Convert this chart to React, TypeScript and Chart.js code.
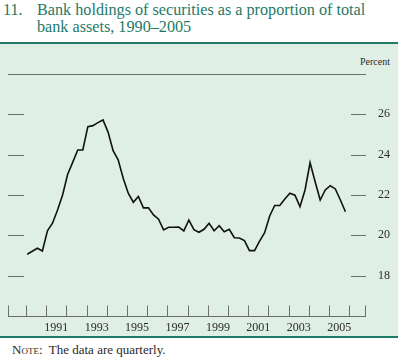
import React, { useEffect, useRef } from "react";
import { Chart, registerables } from "chart.js";

Chart.register(...registerables);

// Quarterly data, 1990:Q1 – 2005:Q4 (percent)
const START_YEAR = 1990;
const securitiesShare = [
  19.06, 19.21, 19.36, 19.22, 20.22, 20.6, 21.26, 22.0, 23.03, 23.62, 24.23, 24.23, 25.39, 25.44, 25.59, 25.72,
  25.12, 24.2, 23.74, 22.83, 22.09, 21.64, 21.93, 21.36, 21.37, 21.01, 20.8, 20.27, 20.4, 20.4, 20.41, 20.22,
  20.76, 20.28, 20.15, 20.3, 20.6, 20.23, 20.48, 20.18, 20.3, 19.88, 19.87, 19.74, 19.24, 19.24, 19.71, 20.13,
  20.96, 21.48, 21.48, 21.8, 22.09, 21.99, 21.42, 22.25, 23.6, 22.66, 21.75, 22.25, 22.46, 22.3, 21.75, 21.17,
];
const yearLabels = [1991, 1993, 1995, 1997, 1999, 2001, 2003, 2005];
const yearTicks = [1990, 1991, 1992, 1993, 1994, 1995, 1996, 1997, 1998, 1999, 2000, 2001, 2002, 2003, 2004, 2005, 2006];
const percentTicks = [18, 20, 22, 24, 26];

const X_MIN = 1989.11;
const X_MAX = 2006.83;
const Y_MIN = 16;
const Y_MAX = 28;

const SERIF = "'Liberation Serif', 'Times New Roman', Times, serif";
const TEAL = "#1f7a68";
const MARK = "#6e6e6e";

const axisMarks = {
  id: "axisMarks",
  beforeDatasetsDraw(chart: any) {
    const { ctx, chartArea, scales } = chart;
    const { left, right } = chartArea;
    const x = scales.x;
    const y = scales.y;
    ctx.save();
    ctx.strokeStyle = MARK;
    ctx.lineWidth = 1;
    ctx.beginPath();
    const yTop = Math.round(y.getPixelForValue(Y_MAX)) + 0.5;
    ctx.moveTo(left, yTop);
    ctx.lineTo(right, yTop);
    const yBot = Math.round(y.getPixelForValue(Y_MIN)) + 0.5;
    ctx.moveTo(left, yBot);
    ctx.lineTo(right, yBot);
    const xs = [left, right - 1, ...yearTicks.map((yr) => x.getPixelForValue(yr))];
    xs.forEach((px) => {
      const p = Math.round(px) + 0.5;
      ctx.moveTo(p, yBot);
      ctx.lineTo(p, yBot - 11);
    });
    percentTicks.forEach((v) => {
      const p = Math.round(y.getPixelForValue(v)) + 0.5;
      ctx.moveTo(left, p);
      ctx.lineTo(left + 16, p);
      ctx.moveTo(right - 15, p);
      ctx.lineTo(right, p);
    });
    ctx.stroke();
    ctx.restore();
  },
};

function BankChart() {
  const ref = useRef<HTMLCanvasElement | null>(null);
  useEffect(() => {
    if (!ref.current) return;
    const points = securitiesShare.map((v, i) => ({ x: START_YEAR + (i + 0.25) / 4, y: v }));
    const chart = new Chart(ref.current, {
      type: "line",
      data: {
        datasets: [
          {
            data: points,
            borderColor: "#111111",
            borderWidth: 1.6,
            pointRadius: 0,
            tension: 0,
            fill: false,
          },
        ],
      },
      options: {
        animation: false,
        responsive: false,
        devicePixelRatio: 1,
        layout: { padding: { left: 8, top: 30, right: 0, bottom: 0 } },
        plugins: { legend: { display: false }, tooltip: { enabled: false } },
        scales: {
          x: {
            type: "linear",
            min: X_MIN,
            max: X_MAX,
            grid: { display: false, drawTicks: false },
            border: { display: false },
            afterBuildTicks: (s: any) => {
              s.ticks = yearLabels.map((yr) => ({ value: yr + 0.5 }));
            },
            afterFit: (s: any) => {
              s.height = 20;
            },
            ticks: {
              autoSkip: false,
              maxRotation: 0,
              padding: 5,
              color: "#2a2a2a",
              font: { family: SERIF, size: 12 },
              callback: (v: any) => String(Math.floor(Number(v))),
            },
          },
          y: {
            position: "right",
            min: Y_MIN,
            max: Y_MAX,
            grid: { display: false, drawTicks: false },
            border: { display: false },
            afterBuildTicks: (s: any) => {
              s.ticks = percentTicks.map((v) => ({ value: v }));
            },
            afterFit: (s: any) => {
              s.width = 32;
            },
            ticks: {
              padding: 12,
              color: "#2a2a2a",
              font: { family: SERIF, size: 12 },
              callback: (v: any) => String(v),
            },
          },
        },
      },
      plugins: [axisMarks],
    });
    return () => chart.destroy();
  }, []);
  return (
    <canvas
      ref={ref}
      width={398}
      height={292}
      style={{ position: "absolute", left: 0, top: 44, width: 398, height: 292 }}
    />
  );
}

export default function App() {
  return (
    <div
      style={{
        position: "absolute",
        left: 0,
        top: 0,
        width: 400,
        height: 359,
        background: "#ffffff",
        fontFamily: SERIF,
        overflow: "hidden",
      }}
    >
      <div style={{ position: "absolute", left: 3, top: 2, fontSize: 16.2, lineHeight: "17px", color: TEAL }}>
        11.
      </div>
      <div style={{ position: "absolute", left: 37, top: 2, fontSize: 16.2, lineHeight: "17px", color: TEAL, whiteSpace: "nowrap" }}>
        Bank holdings of securities as a proportion of total
        <br />
        bank assets, 1990–2005
      </div>
      <div
        style={{
          position: "absolute",
          left: 0,
          top: 42,
          width: 398,
          height: 292,
          background: "#e0efe6",
          borderTop: `2px solid ${TEAL}`,
          borderBottom: `2px solid ${TEAL}`,
        }}
      />
      <div style={{ position: "absolute", right: 10, top: 56, fontSize: 10, lineHeight: "12px", color: "#2a2a2a" }}>
        Percent
      </div>
      <BankChart />
      <div style={{ position: "absolute", left: 12, top: 343, fontSize: 13, lineHeight: "14px", color: "#2a2a2a", whiteSpace: "pre" }}>
        <span style={{ fontVariant: "small-caps" }}>Note</span>:  The data are quarterly.
      </div>
    </div>
  );
}
